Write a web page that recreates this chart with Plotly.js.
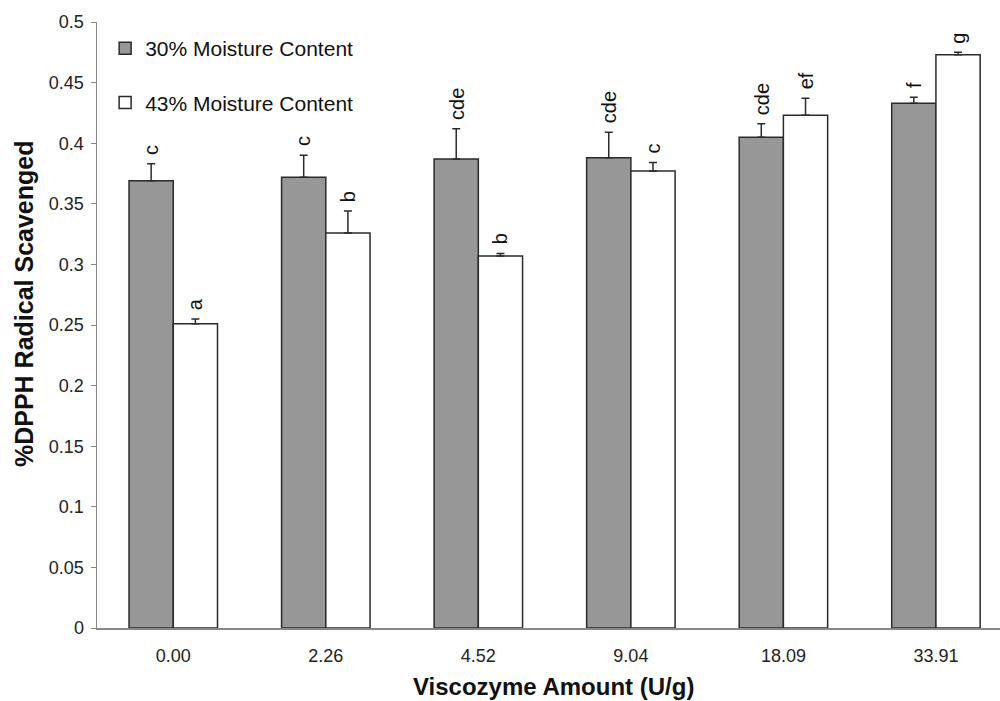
<!DOCTYPE html>
<html>
<head>
<meta charset="utf-8">
<script src="https://cdn.plot.ly/plotly-3.0.1.min.js"></script>
<style>html,body{margin:0;padding:0;background:#fff;}#chart{width:1000px;height:701px;}</style>
</head>
<body>
<div id="chart"></div>
<script>
const categories = ["0.00", "2.26", "4.52", "9.04", "18.09", "33.91"];
const moisture30 = [0.369, 0.372, 0.387, 0.388, 0.405, 0.433];
const moisture30Err = [0.014, 0.018, 0.025, 0.021, 0.011, 0.005];
const moisture43 = [0.251, 0.326, 0.307, 0.377, 0.423, 0.473];
const moisture43Err = [0.004, 0.018, 0.002, 0.007, 0.014, 0.002];
const letters30 = ["c", "c", "cde", "cde", "cde", "f"];
const letters43 = ["a", "b", "b", "c", "ef", "g"];
const seriesNames = ["30% Moisture Content", "43% Moisture Content"];

const FONT = "Liberation Sans, Arial, Helvetica, sans-serif";
const ink = "#2b2b2b";

const traces = [
  {
    type: "bar", name: seriesNames[0], x: categories, y: moisture30,
    legendgroup: "g1",
    marker: {color: "#979797", line: {color: ink, width: 1.5}},
    error_y: {type: "data", array: moisture30Err, arrayminus: moisture30Err.map(() => 0), symmetric: false,
              color: ink, thickness: 1.5, width: 4}
  },
  {
    type: "bar", name: seriesNames[1], x: categories, y: moisture43,
    legendgroup: "g2",
    marker: {color: "#ffffff", line: {color: ink, width: 1.5}},
    error_y: {type: "data", array: moisture43Err, arrayminus: moisture43Err.map(() => 0), symmetric: false,
              color: ink, thickness: 1.5, width: 4}
  }
];

const annotations = [];
categories.forEach((c, i) => {
  annotations.push({x: i, y: moisture30[i] + moisture30Err[i], xref: "x", yref: "y",
    text: letters30[i], showarrow: false, textangle: -90, xanchor: "center", yanchor: "bottom",
    xshift: -22, yshift: 7, font: {family: FONT, size: 20, color: "#111"}});
  annotations.push({x: i, y: moisture43[i] + moisture43Err[i], xref: "x", yref: "y",
    text: letters43[i], showarrow: false, textangle: -90, xanchor: "center", yanchor: "bottom",
    xshift: 22, yshift: 7, font: {family: FONT, size: 20, color: "#111"}});
});
annotations.push({x: 0.506, y: -0.097, xref: "paper", yref: "paper", yanchor: "middle", xanchor: "center",
  text: "<b>Viscozyme Amount (U/g)</b>", showarrow: false,
  font: {family: FONT, size: 24, color: "#111"}});
annotations.push({x: -0.081, y: 0.536, xref: "paper", yref: "paper", yanchor: "middle", xanchor: "center",
  text: "<b>%DPPH Radical Scavenged</b>", showarrow: false, textangle: -90,
  font: {family: FONT, size: 25, color: "#111"}});

const layout = {
  width: 1000, height: 701,
  margin: {l: 97, r: 0, t: 22, b: 73},
  paper_bgcolor: "#fff", plot_bgcolor: "#fff",
  font: {family: FONT, color: "#222"},
  barmode: "group", bargap: 0.42, bargroupgap: 0,
  showlegend: true,
  legend: {x: 0.009, y: 0.99, xanchor: "left", yanchor: "top", traceorder: "grouped",
           tracegroupgap: 24, bgcolor: "rgba(0,0,0,0)",
           font: {family: FONT, size: 21, color: "#111"}, itemwidth: 30},
  xaxis: {
    type: "category", range: [-0.5, 5.42],
    showline: true, linecolor: "#888", linewidth: 1.5,
    ticks: "", showgrid: false, zeroline: false,
    tickfont: {family: FONT, size: 18, color: "#222"},
    ticklabelstandoff: 11
  },
  yaxis: {
    range: [0, 0.5], dtick: 0.05, tick0: 0,
    showline: true, linecolor: "#888", linewidth: 1.5,
    ticks: "outside", ticklen: 5, tickcolor: "#888", tickwidth: 1,
    showgrid: false, zeroline: false,
    tickformat: "~g",
    ticklabelstandoff: 3,
    tickfont: {family: FONT, size: 18, color: "#222"}
  },
  annotations: annotations
};

Plotly.newPlot("chart", traces, layout, {staticPlot: true, displayModeBar: false});
</script>
</body>
</html>
